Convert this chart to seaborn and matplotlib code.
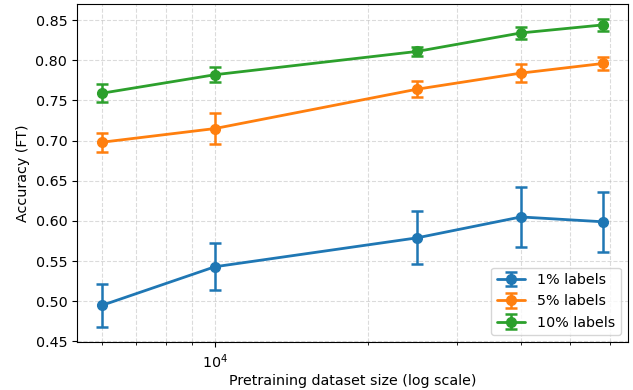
import matplotlib
matplotlib.use("Agg")
import matplotlib.pyplot as plt
import matplotlib.ticker as mticker
import seaborn as sns
import numpy as np

sizes = [6000, 10000, 25000, 40000, 58000]
labels = ["1% labels", "5% labels", "10% labels"]
acc_1 = [0.495, 0.543, 0.579, 0.605, 0.599]
err_1 = [0.027, 0.029, 0.033, 0.037, 0.037]
acc_5 = [0.698, 0.715, 0.764, 0.784, 0.796]
err_5 = [0.012, 0.019, 0.010, 0.011, 0.008]
acc_10 = [0.759, 0.782, 0.811, 0.834, 0.844]
err_10 = [0.011, 0.009, 0.006, 0.007, 0.007]

sns.set_style("ticks", rc={
    "text.color": "black", "axes.labelcolor": "black",
    "xtick.color": "black", "ytick.color": "black",
    "axes.edgecolor": "black", "axes.linewidth": 1.0,
    "xtick.major.size": 3.5, "ytick.major.size": 3.5,
    "xtick.minor.size": 2.0, "ytick.minor.size": 2.0,
    "xtick.major.width": 0.8, "ytick.major.width": 0.8,
    "xtick.minor.width": 0.6,
})
plt.rcParams['font.family'] = ['DejaVu Sans']
palette = sns.color_palette("tab10", 3)
fs = 10.3

fig, ax = plt.subplots(figsize=(6.33, 3.9), dpi=100)
fig.subplots_adjust(left=0.1216, right=0.992, top=0.99, bottom=0.122)

for lab, acc, err, col in zip(labels, [acc_1, acc_5, acc_10], [err_1, err_5, err_10], palette):
    ax.errorbar(sizes, acc, yerr=err, fmt='-o', color=col, label=lab,
                linewidth=2, elinewidth=1.8, capsize=4, capthick=1.8, markersize=7)

ax.set_xscale('log')
ax.xaxis.set_minor_formatter(mticker.NullFormatter())
ax.set_yticks(np.arange(0.45, 0.851, 0.05))
ax.yaxis.set_major_formatter(mticker.FormatStrFormatter('%.2f'))
ax.set_xlabel("Pretraining dataset size (log scale)", fontsize=fs, labelpad=2.5)
ax.set_ylabel("Accuracy (FT)", fontsize=fs)
ax.tick_params(labelsize=fs)
ax.grid(True, which='both', linestyle='--', color='#b0b0b0', alpha=0.45, linewidth=0.8)
ax.grid(False, which='minor', axis='y')
for s in ax.spines.values():
    s.set_visible(True)
    s.set_color('black')
ax.legend(loc='lower right', fontsize=fs)

fig.savefig("out.png", dpi=100)
